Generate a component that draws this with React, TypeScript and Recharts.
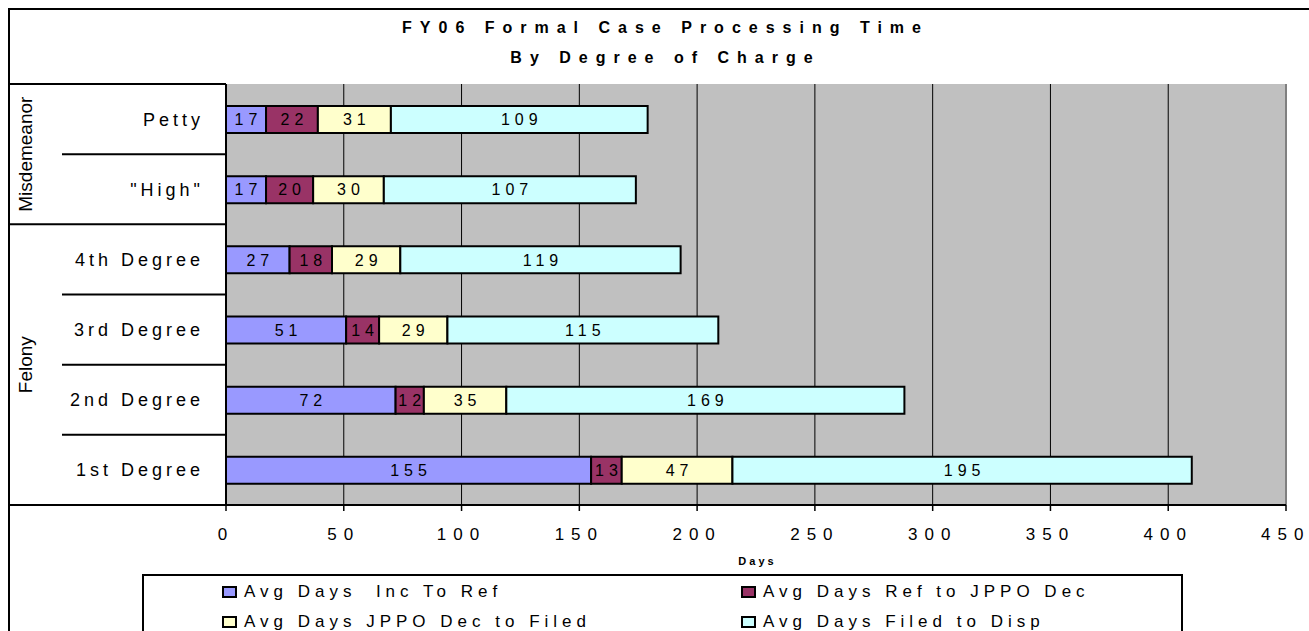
import { BarChart, Bar, XAxis, YAxis, CartesianGrid, ReferenceLine, LabelList, Label } from 'recharts';

const FONT = "'Liberation Sans', Arial, sans-serif";

const CATEGORIES = ['Petty', '"High"', '4th Degree', '3rd Degree', '2nd Degree', '1st Degree'];
const GROUP_NAMES = ['Misdemeanor', 'Felony'];
const GROUP_SIZES = [2, 4];

const INC_TO_REF = [17, 17, 27, 51, 72, 155];
const REF_TO_JPPO = [22, 20, 18, 14, 12, 13];
const JPPO_TO_FILED = [31, 30, 29, 29, 35, 47];
const FILED_TO_DISP = [109, 107, 119, 115, 169, 195];

const X_TICKS = [0, 50, 100, 150, 200, 250, 300, 350, 400, 450];

const SERIES = [
    { key: 'incToRef', name: 'Avg Days  Inc To Ref', color: '#9999FF', values: INC_TO_REF },
    { key: 'refToJppo', name: 'Avg Days Ref to JPPO Dec', color: '#993366', values: REF_TO_JPPO },
    { key: 'jppoToFiled', name: 'Avg Days JPPO Dec to Filed', color: '#FFFFCC', values: JPPO_TO_FILED },
    { key: 'filedToDisp', name: 'Avg Days Filed to Disp', color: '#CCFFFF', values: FILED_TO_DISP },
];

const data = CATEGORIES.map((name, i) => {
    const row: Record<string, string | number> = { name };
    SERIES.forEach((s) => { row[s.key] = s.values[i]; });
    return row;
});

// chart frame, fixed at the body margin so the page never scrolls
const W = 1301;
const H = 623;
const MARGIN = { top: 76, right: 23, bottom: 66, left: 0 };
const Y_AXIS_W = 218;
const X_AXIS_H = 60;
const PLOT_H = H - MARGIN.top - MARGIN.bottom - X_AXIS_H;
const ROW_H = PLOT_H / CATEGORIES.length;

// index of the first row of each group
const GROUP_STARTS = GROUP_SIZES.map((_, g) => GROUP_SIZES.slice(0, g).reduce((a, b) => a + b, 0));

function CategoryTick(props: any) {
    const { y, index, payload } = props;
    const top = y - ROW_H / 2;
    const bottom = y + ROW_H / 2;
    const isLast = index === CATEGORIES.length - 1;
    const groupEnd = GROUP_STARTS.includes(index + 1) || isLast;
    const g = GROUP_STARTS.indexOf(index);
    return (
        <g>
            {index === 0 && <line x1={0} x2={Y_AXIS_W} y1={top} y2={top} stroke="#000" strokeWidth={2} />}
            <line x1={groupEnd ? 0 : 54} x2={Y_AXIS_W} y1={bottom} y2={bottom} stroke="#000" strokeWidth={2} />
            <text x={196} y={y} dy="0.36em" textAnchor="end" fontFamily={FONT} fontSize={18}
                letterSpacing={4} fill="#000">{payload.value}</text>
            {g >= 0 && (
                <text
                    transform={`translate(17, ${top + (GROUP_SIZES[g] * ROW_H) / 2}) rotate(-90)`}
                    dy="0.36em" textAnchor="middle" fontFamily={FONT} fontSize={19} fill="#000"
                >{GROUP_NAMES[g]}</text>
            )}
        </g>
    );
}

function BarLabel(props: any) {
    const vb = props.viewBox && props.viewBox.width !== undefined ? props.viewBox : props;
    const { x, y, width, height } = vb;
    return (
        <text x={x + width / 2 + 2.5} y={y + height / 2} dy="0.36em" textAnchor="middle"
            fontFamily={FONT} fontSize={16} letterSpacing={5} fill="#000">{props.value}</text>
    );
}

function DaysLabel(props: any) {
    const { x, y, width, height } = props.viewBox;
    return (
        <text x={x + width / 2 + 1.5} y={y + height} textAnchor="middle" fontFamily={FONT}
            fontSize={11} fontWeight="bold" letterSpacing={3} fill="#000">Days</text>
    );
}

const LEGEND_POS = [
    { left: 214, top: 584 },
    { left: 733, top: 584 },
    { left: 214, top: 614 },
    { left: 733, top: 614 },
];

export default function App() {
    return (
        <div style={{
            position: 'fixed', left: 8, top: 8, width: W, height: H, overflow: 'hidden',
            fontFamily: FONT, background: '#fff',
        }}>
            <BarChart width={W} height={H} data={data} layout="vertical" margin={MARGIN}>
                <CartesianGrid horizontal={false} stroke="#000" strokeWidth={1} fill="#C0C0C0" fillOpacity={1} />
                <XAxis
                    type="number"
                    domain={[0, 450]}
                    ticks={X_TICKS}
                    height={X_AXIS_H}
                    axisLine={{ stroke: '#000', strokeWidth: 2 }}
                    tickLine={{ stroke: '#000', strokeWidth: 1.5 }}
                    tickSize={6}
                    tickMargin={17}
                    tick={{ fill: '#000', fontSize: 17, letterSpacing: 7, fontFamily: FONT }}
                >
                    <Label content={DaysLabel} />
                </XAxis>
                <XAxis
                    xAxisId="top"
                    orientation="top"
                    type="number"
                    domain={[0, 450]}
                    height={0}
                    tick={false}
                    tickLine={false}
                    axisLine={{ stroke: '#808080', strokeWidth: 2 }}
                />
                <YAxis
                    type="category"
                    dataKey="name"
                    width={Y_AXIS_W}
                    axisLine={{ stroke: '#000', strokeWidth: 2 }}
                    tickLine={false}
                    interval={0}
                    tick={(p: any) => <CategoryTick {...p} />}
                />
                <ReferenceLine x={450} stroke="#808080" strokeWidth={2} />
                {SERIES.map((s) => (
                    <Bar key={s.key} dataKey={s.key} name={s.name} stackId="a" fill={s.color}
                        stroke="#000" strokeWidth={2} barSize={27} isAnimationActive={false}>
                        <LabelList dataKey={s.key} content={BarLabel} />
                    </Bar>
                ))}
            </BarChart>

            <svg width={W} height={H} style={{ position: 'absolute', left: 0, top: 0, pointerEvents: 'none' }}>
                <line x1={1} x2={1} y1={0} y2={H} stroke="#000" strokeWidth={2} />
                <line x1={0} x2={W} y1={1} y2={1} stroke="#000" strokeWidth={2} />
                <text x={657.5} y={25} textAnchor="middle" fontFamily={FONT} fontSize={16} fontWeight="bold"
                    letterSpacing={8} fill="#000">FY06 Formal Case Processing Time</text>
                <text x={657.5} y={55} textAnchor="middle" fontFamily={FONT} fontSize={16} fontWeight="bold"
                    letterSpacing={8} fill="#000">By Degree of Charge</text>
            </svg>

            <div style={{
                position: 'absolute', left: 134, top: 566, width: 1041, height: 100,
                border: '2px solid #000', boxSizing: 'border-box', background: '#fff',
            }} />
            {SERIES.map((s, i) => (
                <div key={s.key} style={{
                    position: 'absolute', left: LEGEND_POS[i].left, top: LEGEND_POS[i].top - 10,
                    height: 20, display: 'flex', alignItems: 'center', whiteSpace: 'pre',
                }}>
                    <div style={{ width: 15, height: 12, boxSizing: 'border-box', border: '2px solid #000', background: s.color }} />
                    <span style={{ marginLeft: 7, fontSize: 17, letterSpacing: 5, lineHeight: '20px', color: '#000' }}>{s.name}</span>
                </div>
            ))}
        </div>
    );
}
